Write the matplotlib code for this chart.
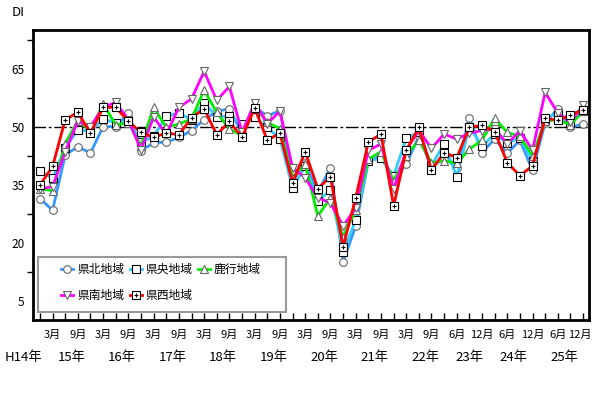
import matplotlib
matplotlib.use('Agg')
import matplotlib.pyplot as plt
from matplotlib.patches import Rectangle
from matplotlib.transforms import blended_transform_factory, ScaledTranslation

plt.rcParams['font.family'] = ['Noto Sans CJK JP', 'DejaVu Sans']

# quarterly survey, H14/12 .. H25/12 (no H23/3 survey)
x_labels = ['', '3月', '', '9月', '', '3月', '', '9月', '', '3月', '', '9月',
            '', '3月', '', '9月', '', '3月', '', '9月', '', '3月', '', '9月',
            '', '3月', '', '9月', '', '3月', '', '9月', '',
            '6月', '', '12月', '', '6月', '', '12月', '', '6月', '', '12月']
year_labels = ['15年', '16年', '17年', '18年', '19年', '20年', '21年', '22年', '23年', '24年', '25年']
year_first = [1, 5, 9, 13, 17, 21, 25, 29, 33, 36, 40]
year_last = [4, 8, 12, 16, 20, 24, 28, 32, 35, 39, 43]

kenpoku = [31.4, 28.4, 42.7, 44.8, 43.2, 50.0, 50.0, 53.6, 43.8, 45.8, 46.0, 47.2,
           49.0, 51.8, 54.0, 54.6, 48.3, 55.0, 52.8, 54.1, 37.8, 40.5, 33.0, 39.4,
           15.0, 24.3, 41.0, 42.5, 36.0, 40.3, 47.5, 39.5, 42.0,
           39.4, 52.2, 43.3, 46.8, 43.1, 46.5, 38.7, 51.0, 54.6, 49.8, 50.7]
kenou = [38.6, 36.6, 44.5, 49.2, 48.8, 52.0, 51.0, 51.5, 46.0, 47.5, 52.7, 53.5,
         51.8, 56.2, 52.5, 52.8, 50.8, 52.5, 49.8, 46.9, 34.1, 39.9, 30.8, 33.5,
         17.6, 25.8, 41.2, 41.8, 37.3, 47.0, 48.5, 40.0, 45.5,
         37.1, 50.0, 45.0, 48.0, 45.9, 47.0, 41.2, 52.0, 53.5, 51.0, 54.0]
rokko = [34.0, 33.4, 45.6, 51.5, 49.0, 55.9, 50.5, 51.0, 45.0, 55.0, 49.8, 50.7,
         52.0, 59.4, 53.7, 49.4, 47.7, 55.5, 51.1, 49.5, 36.8, 40.3, 26.9, 31.6,
         21.5, 28.5, 41.6, 43.5, 36.0, 42.5, 46.5, 40.7, 41.2,
         40.5, 44.2, 46.5, 52.2, 48.5, 47.5, 42.5, 51.5, 51.8, 50.5, 54.0]
kennan = [33.9, 34.5, 43.5, 51.4, 50.0, 55.0, 56.3, 51.8, 44.0, 52.5, 48.0, 55.0,
          57.2, 64.3, 56.8, 60.4, 48.5, 56.2, 50.8, 54.0, 39.4, 36.8, 31.6, 30.3,
          24.3, 29.0, 43.9, 45.5, 33.8, 44.0, 49.0, 44.4, 48.1,
          46.8, 48.3, 49.0, 49.5, 45.5, 49.0, 43.9, 58.9, 53.5, 51.1, 55.5]
kensei = [34.9, 39.7, 51.8, 53.7, 48.3, 55.0, 55.0, 51.4, 48.5, 47.2, 48.4, 47.9,
          52.3, 54.6, 47.9, 51.4, 47.2, 54.8, 46.5, 48.3, 35.5, 43.5, 34.0, 37.0,
          18.9, 31.6, 46.0, 48.1, 29.5, 43.9, 49.8, 38.8, 43.3,
          42.0, 49.8, 50.4, 48.7, 40.7, 37.3, 39.9, 52.2, 51.6, 53.1, 54.3]

names = ['県北地域', '県央地域', '鹿行地域', '県南地域', '県西地域']
colors = ['#3399ff', '#33ccff', '#00ee00', '#ff00ff', '#ff0000']
markers = ['o', 's', '^', 'v', 's']
edges = ['#666666', 'black', '#666666', '#666666', 'black']

fig = plt.figure(figsize=(5.94, 3.93), dpi=100)
ax = fig.add_axes([33/594, 1-320/393, 556/594, 290/393])

x = list(range(len(kenpoku)))
handles = []
for vals, name, c, m, ec in zip([kenpoku, kenou, rokko, kennan, kensei], names, colors, markers, edges):
    ms = 6 if m == 's' else 5.5
    h, = ax.plot(x, vals, color=c, lw=2.0, marker=m, ms=ms, mfc='white', mec=ec, mew=0.8, label=name)
    handles.append(h)
# dot inside the 県西 squares
dot, = ax.plot(x, kensei, ls='none', marker='+', ms=2.5, color='black', mew=0.8)

ax.axhline(50, color='black', lw=1, ls=(0, (9, 2, 2, 2)), zorder=1)

ax.set_xlim(-0.55, 43.47)
ax.set_ylim(0, 75)
ax.set_yticks([5, 20, 35, 50, 65])
ax.set_yticklabels(['5', '20', '35', '50', '65'], fontsize=8.5)
ax.set_yticks([12.5, 27.5, 42.5, 57.5, 72.5], minor=True)
ax.tick_params(axis='y', which='major', length=0, pad=6)
ax.tick_params(axis='y', which='minor', length=4, width=1, direction='out')
ax.set_xticks(x)
ax.set_xticklabels(x_labels, fontsize=8)
ax.tick_params(axis='x', direction='in', length=5, width=1, pad=7)
for s in ax.spines.values():
    s.set_linewidth(2)
# keep the last "12月" inside the picture
last = ax.get_xticklabels()[-1]
last.set_transform(last.get_transform() + ScaledTranslation(-3/100, 0, fig.dpi_scale_trans))

trans = blended_transform_factory(ax.transData, ax.transAxes)
for lab, a, b in zip(year_labels, year_first, year_last):
    ax.text((a + b) / 2, -0.131, lab, transform=trans, ha='center', va='center', fontsize=9.5)
fig.text(5/594, 1-358/393, 'H14年', ha='left', va='center', fontsize=9.5)
fig.text(12/594, 1-13/393, 'DI', ha='left', va='center', fontsize=9.5)

# legend box drawn separately so the entries can sit inset like the original
ax.add_patch(Rectangle((0.009, 0.028), 0.446, 0.19, transform=ax.transAxes, fill=True,
                       facecolor='white', edgecolor='#999999', lw=1.5, zorder=4))
leg_h = [handles[0], handles[3], handles[1], (handles[4], dot), handles[2]]
leg_l = [names[0], names[3], names[1], names[4], names[2]]
leg = ax.legend(leg_h, leg_l, ncol=3, loc='upper left', bbox_to_anchor=(0.047, 0.205),
                fontsize=8.5, handlelength=1.0, handletextpad=0.35, columnspacing=0.45,
                borderpad=0.2, labelspacing=1.1, frameon=False, borderaxespad=0)
leg.set_zorder(5)

plt.savefig('out.png', dpi=100)
